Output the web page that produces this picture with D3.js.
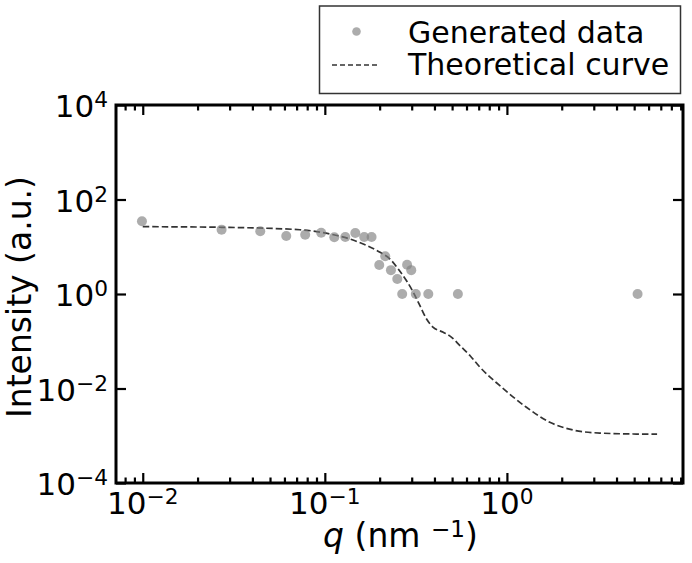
<!DOCTYPE html>
<html>
<head>
<meta charset="utf-8">
<script src="https://cdn.jsdelivr.net/npm/d3@7"></script>
<style>
  body { margin: 0; background: #fff; }
  text { font-family: "DejaVu Sans", sans-serif; fill: #000; }
</style>
</head>
<body>
<div id="chart"></div>
<script>
// measured points (q in nm^-1, intensity in a.u.)
const qData = [0.0099, 0.0271, 0.0442, 0.0614, 0.078, 0.0955, 0.1127, 0.1295, 0.147, 0.1645, 0.1806,
               0.199, 0.2146, 0.2307, 0.250, 0.266, 0.283, 0.2983, 0.316, 0.370, 0.538, 5.22];
const iData = [34.6, 23, 21.2, 16.9, 18, 19.8, 15.9, 16.1, 19.5, 16.1, 16.1,
               4.1, 6.3, 3.2, 2.08, 1.0, 4.17, 3.2, 1.0, 1.0, 1.0, 1.0];

// theoretical curve
const qCurve = [0.01, 0.0271, 0.073, 0.1067, 0.1374, 0.1626, 0.201, 0.228, 0.253, 0.281, 0.306, 0.333,
                0.362, 0.394, 0.447, 0.497, 0.552, 0.628, 0.712, 0.915, 1.28, 1.72, 2.31, 3.24, 4.94, 6.68];
const iCurve = [26.6, 25.8, 22.9, 18.6, 14.6, 11.4, 7.63, 5.5, 3.38, 1.91, 1.09, 0.565,
                0.296, 0.197, 0.155, 0.121, 0.0805, 0.0494, 0.0281, 0.01146, 0.0040, 0.00193, 0.00132, 0.00114, 0.00109, 0.00108];

const xTickExp = [-2, -1, 0];
const yTickExp = [-4, -2, 0, 2, 4];
const legendLabels = ["Generated data", "Theoretical curve"];

const W = 692, H = 563;
const margin = { top: 105, right: 9, bottom: 80, left: 116 };

const svg = d3.select("#chart").append("svg")
  .attr("width", W)
  .attr("height", H);

const x = d3.scaleLog()
  .domain([0.00713, 9.27])
  .range([margin.left, W - margin.right]);

const y = d3.scaleLog()
  .domain([1e-4, 1e4])
  .range([H - margin.bottom, margin.top]);

const x0 = margin.left, x1 = W - margin.right;
const y0 = H - margin.bottom, y1 = margin.top;

// minor ticks on x: 2..9 in each decade inside the domain
const xMinor = [];
for (let e = -3; e <= 0; e++) {
  for (let m = 2; m <= 9; m++) {
    const v = m * Math.pow(10, e);
    if (v > x.domain()[0] && v < x.domain()[1]) xMinor.push(v);
  }
}
const xMajor = xTickExp.map(e => Math.pow(10, e));
const yMajor = yTickExp.map(e => Math.pow(10, e));

const noLabel = () => "";

// inward ticks on all four sides
svg.append("g")
  .attr("transform", `translate(0,${y0})`)
  .call(d3.axisBottom(x).tickValues(xMinor).tickSize(-5.5).tickFormat(noLabel));
svg.append("g")
  .attr("transform", `translate(0,${y0})`)
  .call(d3.axisBottom(x).tickValues(xMajor).tickSize(-10).tickFormat(noLabel));
svg.append("g")
  .attr("transform", `translate(0,${y1})`)
  .call(d3.axisTop(x).tickValues(xMinor).tickSize(-5.5).tickFormat(noLabel));
svg.append("g")
  .attr("transform", `translate(0,${y1})`)
  .call(d3.axisTop(x).tickValues(xMajor).tickSize(-10).tickFormat(noLabel));
svg.append("g")
  .attr("transform", `translate(${x0},0)`)
  .call(d3.axisLeft(y).tickValues(yMajor).tickSize(-10).tickFormat(noLabel));
svg.append("g")
  .attr("transform", `translate(${x1},0)`)
  .call(d3.axisRight(y).tickValues(yMajor).tickSize(-10).tickFormat(noLabel));

svg.selectAll(".tick line").attr("stroke", "#000").attr("stroke-width", 2.2);
svg.selectAll(".domain").remove();

// frame
svg.append("rect")
  .attr("x", x0).attr("y", y1)
  .attr("width", x1 - x0).attr("height", y0 - y1)
  .attr("fill", "none")
  .attr("stroke", "#000")
  .attr("stroke-width", 3);

// tick labels with superscripts
function powLabel(sel, e) {
  sel.append("tspan").text("10");
  sel.append("tspan")
    .attr("font-size", "0.7em")
    .attr("dy", -9.6)
    .text(e < 0 ? "\u2212" + (-e) : String(e));
}

xTickExp.forEach(e => {
  svg.append("text")
    .attr("x", x(Math.pow(10, e)))
    .attr("y", 514)
    .attr("text-anchor", "middle")
    .style("font-size", "31px")
    .call(powLabel, e);
});

yTickExp.forEach(e => {
  svg.append("text")
    .attr("x", 108)
    .attr("y", y(Math.pow(10, e)) + 12)
    .attr("text-anchor", "end")
    .style("font-size", "31px")
    .call(powLabel, e);
});

// axis titles
const xt = svg.append("text")
  .attr("x", (x0 + x1) / 2 + 1)
  .attr("y", 547)
  .attr("text-anchor", "middle")
  .style("font-size", "33px");
xt.append("tspan").style("font-style", "italic").text("q");
xt.append("tspan").text(" (nm ");
xt.append("tspan").attr("font-size", "0.7em").attr("dy", -10).text("\u22121");
xt.append("tspan").attr("dy", 10).text(")");

svg.append("text")
  .attr("transform", `translate(31,${(y0 + y1) / 2 + 3}) rotate(-90)`)
  .attr("text-anchor", "middle")
  .style("font-size", "33px")
  .text("Intensity (a.u.)");

// theoretical curve
const curveData = qCurve.map((q, i) => ({ q: q, v: iCurve[i] }));
const line = d3.line()
  .x(d => x(d.q))
  .y(d => y(d.v))
  .curve(d3.curveMonotoneX);

svg.append("path")
  .datum(curveData)
  .attr("d", line)
  .attr("fill", "none")
  .attr("stroke", "#333")
  .attr("stroke-width", 1.7)
  .attr("stroke-dasharray", "6.5,3");

// data points
const pts = qData.map((q, i) => ({ q: q, v: iData[i] }));
svg.append("g")
  .selectAll("circle")
  .data(pts)
  .enter()
  .append("circle")
  .attr("cx", d => x(d.q))
  .attr("cy", d => y(d.v))
  .attr("r", 5)
  .attr("fill", "gray")
  .attr("fill-opacity", 0.65);

// legend
const lg = svg.append("g");
lg.append("rect")
  .attr("x", 319.5).attr("y", 6)
  .attr("width", 361).attr("height", 87.5)
  .attr("fill", "#fff")
  .attr("stroke", "#333")
  .attr("stroke-width", 1.5);
lg.append("circle")
  .attr("cx", 356.5).attr("cy", 31.5)
  .attr("r", 4.3)
  .attr("fill", "gray")
  .attr("fill-opacity", 0.65);
lg.append("line")
  .attr("x1", 332).attr("x2", 377)
  .attr("y1", 65).attr("y2", 65)
  .attr("stroke", "#333")
  .attr("stroke-width", 1.5)
  .attr("stroke-dasharray", "5,3");
lg.selectAll("text.lab")
  .data(legendLabels)
  .enter()
  .append("text")
  .attr("class", "lab")
  .attr("x", 408)
  .attr("y", (d, i) => 42.5 + i * 32)
  .style("font-size", "30px")
  .text(d => d);
</script>
</body>
</html>
